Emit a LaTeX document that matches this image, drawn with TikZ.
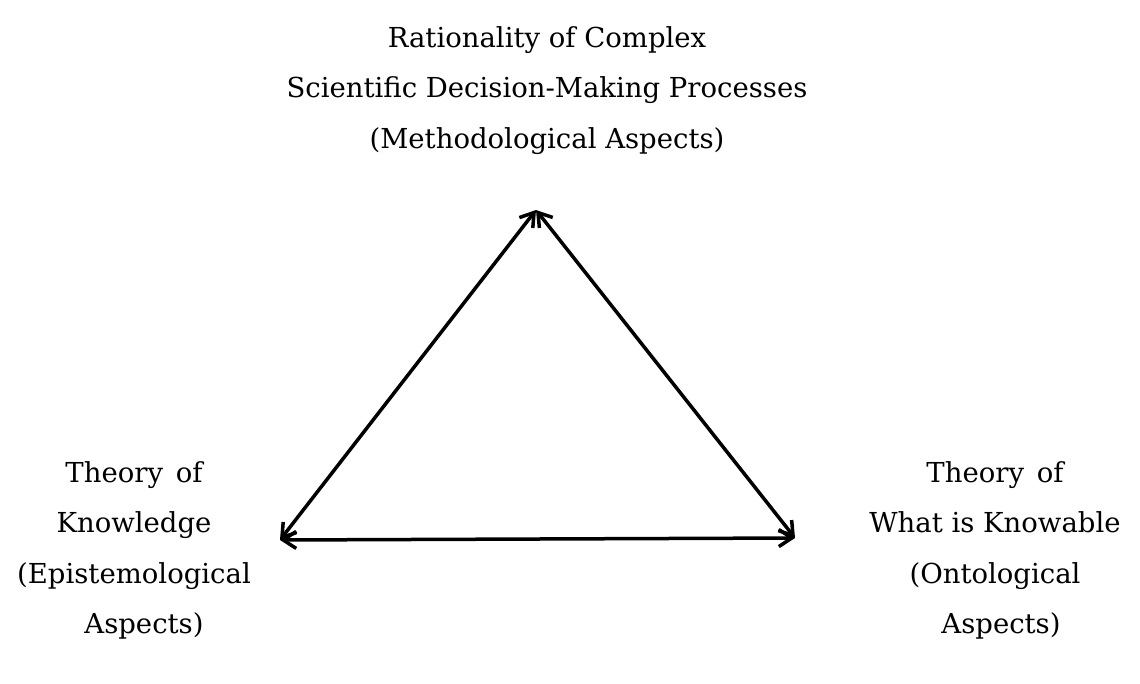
\documentclass[tikz,border=0pt]{standalone}
\usepackage{fontspec}
\setmainfont{DejaVu Serif}
\usepackage{tikz}
\usetikzlibrary{arrows.meta}

\begin{document}
\begin{tikzpicture}[
    x=1pt, y=-1pt,
    label/.style={align=center, inner sep=0pt,
      font=\fontsize{27.5}{50.5}\selectfont},
    arrow/.style={{Straight Barb[length=13pt,width=17pt]}-{Straight Barb[length=13pt,width=17pt]},
      line width=3.5pt}
  ]
    \useasboundingbox (0,0) rectangle (1140,683);
    \coordinate (apex) at (536,210);
    \coordinate (leftcorner) at (280,540);
    \coordinate (rightcorner) at (795,538);
    \node[label, anchor=north] (method) at (547,26)
      {Rationality of Complex\\Scientific Decision-Making Processes\\(Methodological Aspects)};
    \node[label, anchor=north] (episteme) at (134,461)
      {Theory\hspace{4pt} of\\Knowledge\\(Epistemological\\\hspace*{20pt}Aspects)};
    \node[label, anchor=north] (onto) at (995,461)
      {Theory\hspace{4pt} of\\What is Knowable\\(Ontological\\\hspace*{12pt}Aspects)};
    \draw[arrow] (apex) -- (leftcorner);
    \draw[arrow] (apex) -- (rightcorner);
    \draw[arrow] (leftcorner) -- (rightcorner);
  \end{tikzpicture}
\end{document}
